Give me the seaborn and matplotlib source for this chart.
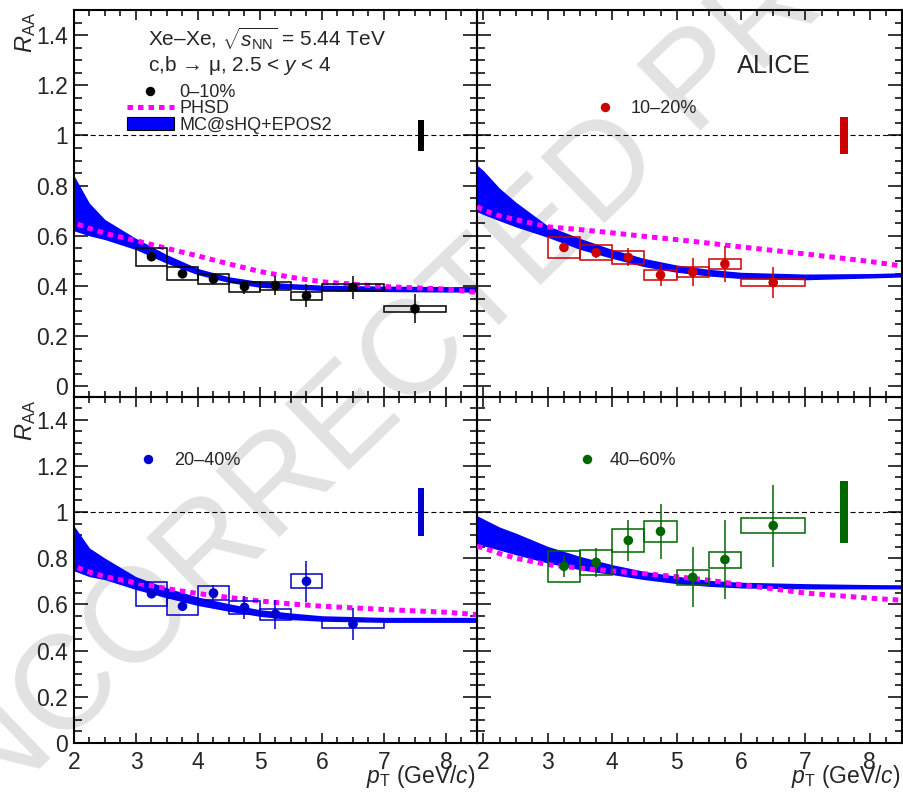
import numpy as np
import matplotlib
matplotlib.use("Agg")
import matplotlib.pyplot as plt
import seaborn as sns
from matplotlib.ticker import MultipleLocator, FuncFormatter, NullFormatter
from matplotlib.lines import Line2D
from matplotlib.patches import Patch

# ---------------- data ----------------
centralities = ["0–10%", "10–20%", "20–40%", "40–60%"]
colors = ["#000000", "#cc0000", "#0000cc", "#006600"]

bin_lo = [3.0, 3.5, 4.0, 4.5, 5.0, 5.5, 6.0, 7.0]
bin_hi = [3.5, 4.0, 4.5, 5.0, 5.5, 6.0, 7.0, 8.0]
pt_x = [3.25, 3.75, 4.25, 4.75, 5.25, 5.75, 6.5, 7.5]

raa_0_10 = [0.517, 0.449, 0.428, 0.398, 0.402, 0.361, 0.395, 0.309]
stat_0_10 = [0.012, 0.016, 0.021, 0.028, 0.038, 0.046, 0.046, 0.058]
syst_0_10 = [0.036, 0.025, 0.020, 0.020, 0.016, 0.015, 0.013, 0.013]

raa_10_20 = [0.554, 0.533, 0.514, 0.444, 0.456, 0.488, 0.414]
stat_10_20 = [0.012, 0.020, 0.036, 0.045, 0.055, 0.073, 0.063]
syst_10_20 = [0.042, 0.030, 0.027, 0.021, 0.021, 0.020, 0.0135]

raa_20_40 = [0.646, 0.592, 0.649, 0.587, 0.558, 0.700, 0.515]
stat_20_40 = [0.015, 0.020, 0.035, 0.050, 0.063, 0.088, 0.070]
syst_20_40 = [0.052, 0.036, 0.031, 0.027, 0.024, 0.030, 0.018]

raa_40_60 = [0.765, 0.782, 0.877, 0.916, 0.717, 0.794, 0.941]
stat_40_60 = [0.045, 0.063, 0.088, 0.118, 0.130, 0.170, 0.177]
syst_40_60 = [0.067, 0.053, 0.050, 0.045, 0.034, 0.035, 0.033]

global_unc = [0.062, 0.074, 0.105, 0.133]
global_x = 7.6

model_x = [1.9, 2.0, 2.25, 2.5, 3.0, 3.5, 4.0, 4.5, 5.0, 5.5, 6.0, 7.0, 8.0, 8.5]
mc_up_0_10 = [0.90, 0.84, 0.73, 0.665, 0.59, 0.525, 0.47, 0.437, 0.418, 0.41, 0.404, 0.40, 0.398, 0.398]
mc_lo_0_10 = [0.63, 0.62, 0.60, 0.585, 0.545, 0.49, 0.445, 0.414, 0.395, 0.388, 0.382, 0.378, 0.376, 0.376]
mc_up_10_20 = [0.882, 0.86, 0.79, 0.735, 0.64, 0.59, 0.546, 0.51, 0.484, 0.467, 0.455, 0.448, 0.45, 0.453]
mc_lo_10_20 = [0.696, 0.685, 0.66, 0.636, 0.594, 0.546, 0.51, 0.477, 0.455, 0.44, 0.43, 0.425, 0.432, 0.436]
mc_up_20_40 = [0.98, 0.94, 0.844, 0.80, 0.72, 0.671, 0.632, 0.603, 0.577, 0.563, 0.551, 0.544, 0.544, 0.544]
mc_lo_20_40 = [0.755, 0.745, 0.72, 0.707, 0.664, 0.628, 0.595, 0.57, 0.548, 0.534, 0.527, 0.522, 0.522, 0.522]
mc_up_40_60 = [0.984, 0.97, 0.935, 0.909, 0.851, 0.808, 0.772, 0.743, 0.722, 0.704, 0.696, 0.69, 0.686, 0.685]
mc_lo_40_60 = [0.859, 0.853, 0.835, 0.815, 0.779, 0.75, 0.729, 0.707, 0.69, 0.678, 0.671, 0.667, 0.667, 0.667]

phsd_0_10 = [0.66, 0.652, 0.63, 0.61, 0.581, 0.55, 0.52, 0.488, 0.458, 0.435, 0.417, 0.398, 0.388, 0.375]
phsd_10_20 = [0.716, 0.703, 0.68, 0.665, 0.636, 0.625, 0.612, 0.598, 0.585, 0.571, 0.556, 0.528, 0.498, 0.48]
phsd_20_40 = [0.775, 0.765, 0.74, 0.72, 0.693, 0.668, 0.647, 0.63, 0.615, 0.602, 0.592, 0.578, 0.566, 0.556]
phsd_40_60 = [0.851, 0.845, 0.82, 0.80, 0.772, 0.757, 0.745, 0.733, 0.72, 0.705, 0.685, 0.649, 0.627, 0.618]

panels = [
    dict(raa=raa_0_10, stat=stat_0_10, syst=syst_0_10, up=mc_up_0_10, lo=mc_lo_0_10, phsd=phsd_0_10),
    dict(raa=raa_10_20, stat=stat_10_20, syst=syst_10_20, up=mc_up_10_20, lo=mc_lo_10_20, phsd=phsd_10_20),
    dict(raa=raa_20_40, stat=stat_20_40, syst=syst_20_40, up=mc_up_20_40, lo=mc_lo_20_40, phsd=phsd_20_40),
    dict(raa=raa_40_60, stat=stat_40_60, syst=syst_40_60, up=mc_up_40_60, lo=mc_lo_40_60, phsd=phsd_40_60),
]

# ---------------- style ----------------
sns.set_theme(style="ticks")
plt.rcParams["font.family"] = ["Liberation Sans", "DejaVu Sans"]
plt.rcParams["mathtext.fontset"] = "custom"
plt.rcParams["mathtext.rm"] = "Liberation Sans"
plt.rcParams["mathtext.it"] = "Liberation Sans:italic"
plt.rcParams["mathtext.bf"] = "Liberation Sans:bold"
plt.rcParams["axes.linewidth"] = 1.5

W, H = 904, 795
fig = plt.figure(figsize=(W / 100, H / 100), dpi=100)

def fx(px):
    return px / W

def fy(py):
    return 1 - py / H

xl, xm, xr = 74, 477, 902
yt, ym, yb = 10, 396.5, 743
rects = [
    (fx(xl), fy(ym), fx(xm) - fx(xl), fy(yt) - fy(ym)),
    (fx(xm), fy(ym), fx(xr) - fx(xm), fy(yt) - fy(ym)),
    (fx(xl), fy(yb), fx(xm) - fx(xl), fy(ym) - fy(yb)),
    (fx(xm), fy(yb), fx(xr) - fx(xm), fy(ym) - fy(yb)),
]

band_color = "#0000ff"
phsd_color = "#ff00ff"
phsd_ls = (0, (1.1, 1.0))
tick_fs = 16.5

fig.text(0.502, 0.596, "UNCORRECTED PROOF", rotation=44, fontsize=96,
         color="#e2e2e2", ha="center", va="center", rotation_mode="anchor", zorder=-5)

axes = []
for i, (rect, p) in enumerate(zip(rects, panels)):
    ax = fig.add_axes(rect)
    ax.set_facecolor("none")
    axes.append(ax)
    col = colors[i]
    right = i % 2 == 1
    bottom = i >= 2

    ax.set_xlim(1.9 if right else 2.0, 8.5)
    ax.set_ylim(0.0 if bottom else -0.04, 1.5)

    # MC@sHQ+EPOS2 band
    ax.fill_between(model_x, p["lo"], p["up"], color=band_color, lw=0, zorder=2)
    # PHSD
    sns.lineplot(x=model_x, y=p["phsd"], ax=ax, color=phsd_color, linewidth=3.6,
                 linestyle=phsd_ls, sort=False, estimator=None, zorder=3)
    # unity line
    ax.axhline(1.0, color="black", lw=0.8, ls=(0, (4.5, 2.8)), zorder=1)

    n = len(p["raa"])
    xs = np.array(pt_x[:n])
    lo_edges = np.array(bin_lo[:n])
    hi_edges = np.array(bin_hi[:n])
    raa = np.array(p["raa"])
    syst = np.array(p["syst"])
    stat = np.array(p["stat"])
    # systematic boxes
    ax.bar(lo_edges, 2 * syst, bottom=raa - syst, width=hi_edges - lo_edges, align="edge",
           fill=False, edgecolor=col, linewidth=1.1, zorder=4)
    # stat errors
    ax.vlines(xs, raa - stat, raa + stat, color=col, lw=1.1, zorder=5)
    sns.scatterplot(x=xs, y=raa, ax=ax, color=col, s=48, edgecolor="none", zorder=6, legend=False)
    # global normalisation box
    gw = 0.095 if not right else 0.118
    ax.bar([global_x], [2 * global_unc[i]], bottom=1 - global_unc[i], width=gw,
           color=col, linewidth=0, zorder=4)

    # ticks
    ax.xaxis.set_major_locator(MultipleLocator(1))
    ax.xaxis.set_minor_locator(MultipleLocator(0.25))
    ax.yaxis.set_major_locator(MultipleLocator(0.2))
    ax.yaxis.set_minor_locator(MultipleLocator(0.05))
    ax.tick_params(which="both", direction="in", top=True, right=True, width=1.1, color="black")
    ax.tick_params(axis="x", which="major", length=7.2)
    ax.tick_params(axis="x", which="minor", length=4.0)
    ax.tick_params(axis="y", which="major", length=10)
    ax.tick_params(axis="y", which="minor", length=5.4)
    ax.tick_params(axis="y", labelsize=tick_fs, pad=4.5)
    ax.tick_params(axis="x", labelsize=tick_fs, pad=5.5)
    fmt = FuncFormatter(lambda v, pos: f"{v:g}")
    if right:
        ax.yaxis.set_major_formatter(NullFormatter())
    else:
        ax.yaxis.set_major_formatter(fmt)
    if bottom:
        ax.xaxis.set_major_formatter(fmt)
    else:
        ax.xaxis.set_major_formatter(NullFormatter())
    for s in ax.spines.values():
        s.set_linewidth(1.5)
        s.set_color("black")
    ax.set_xlabel("")
    ax.set_ylabel("")

    if not right:
        ax.text(-0.12, 0.995 if not bottom else 0.99, r"$R_{\rm AA}$", rotation=90,
                ha="center", va="top", fontsize=17, transform=ax.transAxes)
    if bottom:
        ax.text(0.997, -0.1145, r"$p_{\rm T}$ (GeV/$c$)", ha="right", va="baseline",
                fontsize=16.5, transform=ax.transAxes)

# top-left texts and legend
ax0 = axes[0]
ax0.text(0.1836, 0.9069, r"Xe–Xe, $\sqrt{s_{\rm NN}}$ = 5.44 TeV", fontsize=15,
         ha="left", va="baseline", transform=ax0.transAxes)
ax0.text(0.1836, 0.8422, r"c,b → μ, 2.5 < $y$ < 4", fontsize=15,
         ha="left", va="baseline", transform=ax0.transAxes)
h_pts = Line2D([], [], marker="o", ls="none", color=colors[0], markersize=6.8, markeredgewidth=0)
h_phsd = Line2D([], [], color=phsd_color, lw=3.6, ls=phsd_ls)
h_band = Patch(facecolor=band_color, edgecolor="black", linewidth=0.8)
leg = ax0.legend([h_pts, h_phsd, h_band], [centralities[0], "PHSD", "MC@sHQ+EPOS2"],
                 loc="center left", bbox_to_anchor=(0.1315, 0.744), frameon=False,
                 fontsize=13, handlelength=2.6, handletextpad=0.3, labelspacing=-0.03,
                 borderpad=0, borderaxespad=0)

legend_pos = {1: (0.247, 0.744, 0.1), 2: (0.1266, 0.8147, 0.1), 3: (0.2047, 0.8147, -0.1)}
for i, (lx, ly, tp) in legend_pos.items():
    h = Line2D([], [], marker="o", ls="none", color=colors[i], markersize=6.8, markeredgewidth=0)
    axes[i].legend([h], [centralities[i]], loc="center left", bbox_to_anchor=(lx, ly),
                   frameon=False, fontsize=13, handlelength=2.6, handletextpad=tp,
                   borderpad=0, borderaxespad=0)

axes[1].text(0.6118, 0.8378, "ALICE", fontsize=18.4, ha="left", va="baseline",
             transform=axes[1].transAxes)

fig.savefig("out.png", dpi=100)
